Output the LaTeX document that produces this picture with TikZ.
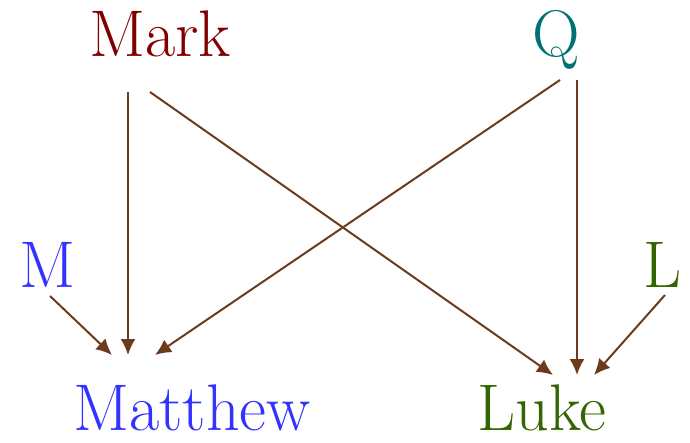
\documentclass[tikz,border=0pt]{standalone}
\usepackage{tikz}
\usetikzlibrary{arrows.meta,calc,positioning}
\definecolor{markred}{RGB}{128,0,0}
\definecolor{qteal}{RGB}{0,112,112}
\definecolor{matblue}{RGB}{51,51,255}
\definecolor{lukegreen}{RGB}{51,102,0}
\definecolor{arrbrown}{RGB}{110,58,30}
\tikzset{
  gospel/.style={inner sep=0pt, anchor=base, font=\fontsize{33}{38}\selectfont},
  dep/.style={arrbrown, line width=1pt, -{Latex[length=8pt,width=7.5pt]}}
}

\begin{document}
\begin{tikzpicture}[x=0.5pt,y=-0.5pt]
        \useasboundingbox (0,0) rectangle (690,443);
        % Draw the sources
        \node[gospel,markred] (mark) at (160,57) {Mark};
        \node[gospel,qteal] (q) at (556,57) {Q};
        \node[gospel,matblue] (m) at (48,287) {M};
        \node[gospel,lukegreen] (l) at (662,287) {L};
        % the gospels
        \node[gospel,matblue] (matthew) at (192,430) {Matthew};
        \node[gospel,lukegreen] (luke) at (542,430) {Luke};
        % Add the arrows
        \draw[dep] ($(mark.base)+(-32,35)$) -- ($(matthew.base)+(-64,-75)$);
        \draw[dep] ($(mark.base)+(-10,35)$) -- ($(luke.base)+(11,-55)$);
        \draw[dep] ($(q.base)+(4,23)$) -- ($(matthew.base)+(-37,-75)$);
        \draw[dep] ($(q.base)+(21,23)$) -- ($(luke.base)+(35,-55)$);
        \draw[dep] ($(m.base)+(2,9)$) -- ($(matthew.base)+(-80,-75)$);
        \draw[dep] ($(l.base)+(3,8)$) -- ($(luke.base)+(52,-55)$);
      \end{tikzpicture}
\end{document}
